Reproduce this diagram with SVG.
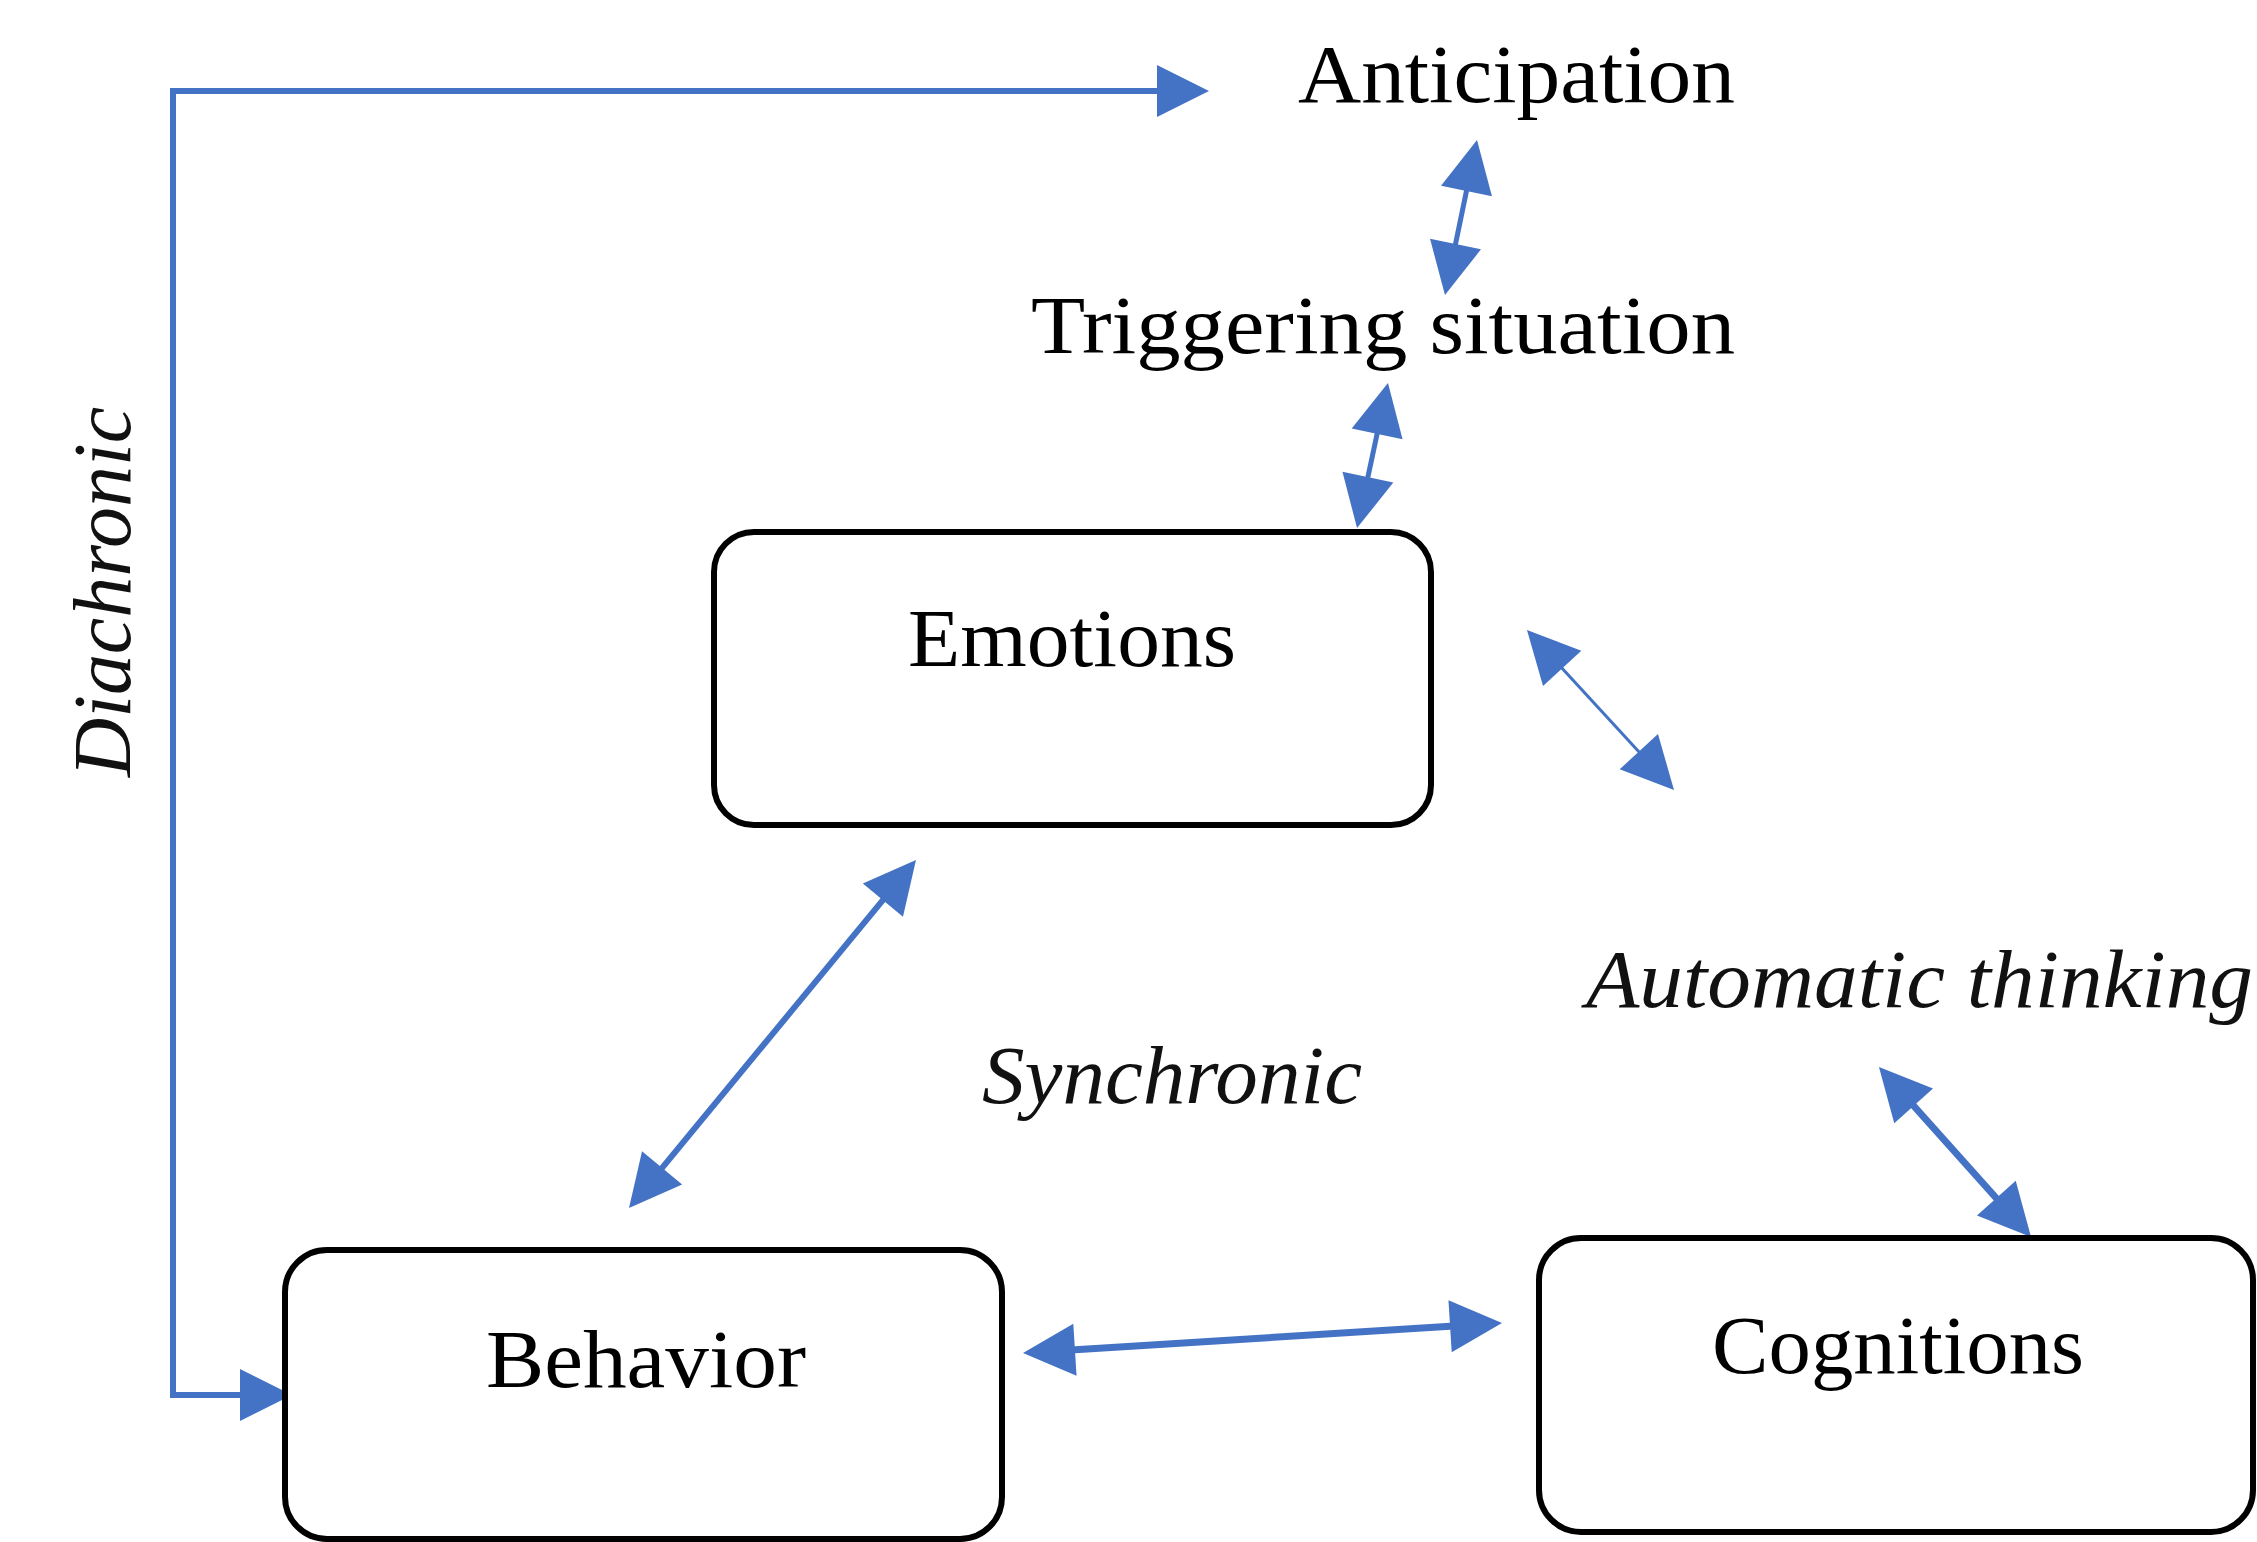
<svg xmlns="http://www.w3.org/2000/svg" width="2257" height="1542" viewBox="0 0 2257 1542">
<style>
.box{fill:#fff;stroke:#000;stroke-width:6}
.lbl{font-family:"Liberation Serif","Times New Roman",serif;font-size:82px;fill:#000}
.it{font-family:"Liberation Serif","Times New Roman",serif;font-size:82px;font-style:italic;fill:#111}
.con{fill:none;stroke:#4472C4;marker-start:url(#ah);marker-end:url(#ah)}
</style>
<defs>
<marker id="ah" markerUnits="userSpaceOnUse" markerWidth="52" markerHeight="52" refX="44" refY="26" orient="auto-start-reverse" overflow="visible">
<path d="M0,0 L52,26 L0,52 Z" fill="#4472C4"/>
</marker>
</defs>
<rect width="2257" height="1542" fill="#fff"/>
<g id="connectors">
<path id="diachronic-line" d="M1201,91 H173 V1395 H284" fill="none" stroke="#4472C4" stroke-width="6" marker-start="url(#ah)" marker-end="url(#ah)"/>
<line class="con" x1="1475.4" y1="147.8" x2="1446.6" y2="287.2" stroke-width="5"/>
<line class="con" x1="1386.3" y1="390.8" x2="1358.7" y2="520.2" stroke-width="5"/>
<line class="con" x1="1532.4" y1="635.9" x2="1668.6" y2="784.1" stroke-width="3"/>
<line class="con" x1="910.9" y1="866.2" x2="634.1" y2="1201.8" stroke-width="6"/>
<line class="con" x1="1031" y1="1352.5" x2="1494" y2="1323.5" stroke-width="7"/>
<line class="con" x1="1884.3" y1="1073" x2="2025.7" y2="1231" stroke-width="7"/>
</g>
<g id="anticipation">
<text class="lbl" x="1298" y="102" textLength="437" lengthAdjust="spacingAndGlyphs">Anticipation</text>
</g>
<g id="triggering-situation">
<text class="lbl" x="1031" y="353" textLength="704" lengthAdjust="spacingAndGlyphs">Triggering situation</text>
</g>
<g id="emotions">
<rect class="box" x="714" y="532" width="717" height="293" rx="40" ry="40"/>
<text class="lbl" x="908" y="666" textLength="328" lengthAdjust="spacingAndGlyphs">Emotions</text>
</g>
<g id="behavior">
<rect class="box" x="285" y="1250" width="717" height="289" rx="42" ry="42"/>
<text class="lbl" x="486" y="1387" textLength="320" lengthAdjust="spacingAndGlyphs">Behavior</text>
</g>
<g id="cognitions">
<rect class="box" x="1539" y="1238" width="714" height="294" rx="42" ry="42"/>
<text class="lbl" x="1712" y="1373" textLength="372" lengthAdjust="spacingAndGlyphs">Cognitions</text>
</g>
<g id="automatic-thinking">
<text class="it" x="1586" y="1007" textLength="667" lengthAdjust="spacingAndGlyphs">Automatic thinking</text>
</g>
<g id="synchronic">
<text class="it" x="982" y="1103" textLength="380" lengthAdjust="spacingAndGlyphs">Synchronic</text>
</g>
<g id="diachronic">
<text class="it" transform="translate(130,777) rotate(-90)" x="0" y="0" font-size="86" textLength="370" lengthAdjust="spacingAndGlyphs">Diachronic</text>
</g>
</svg>
